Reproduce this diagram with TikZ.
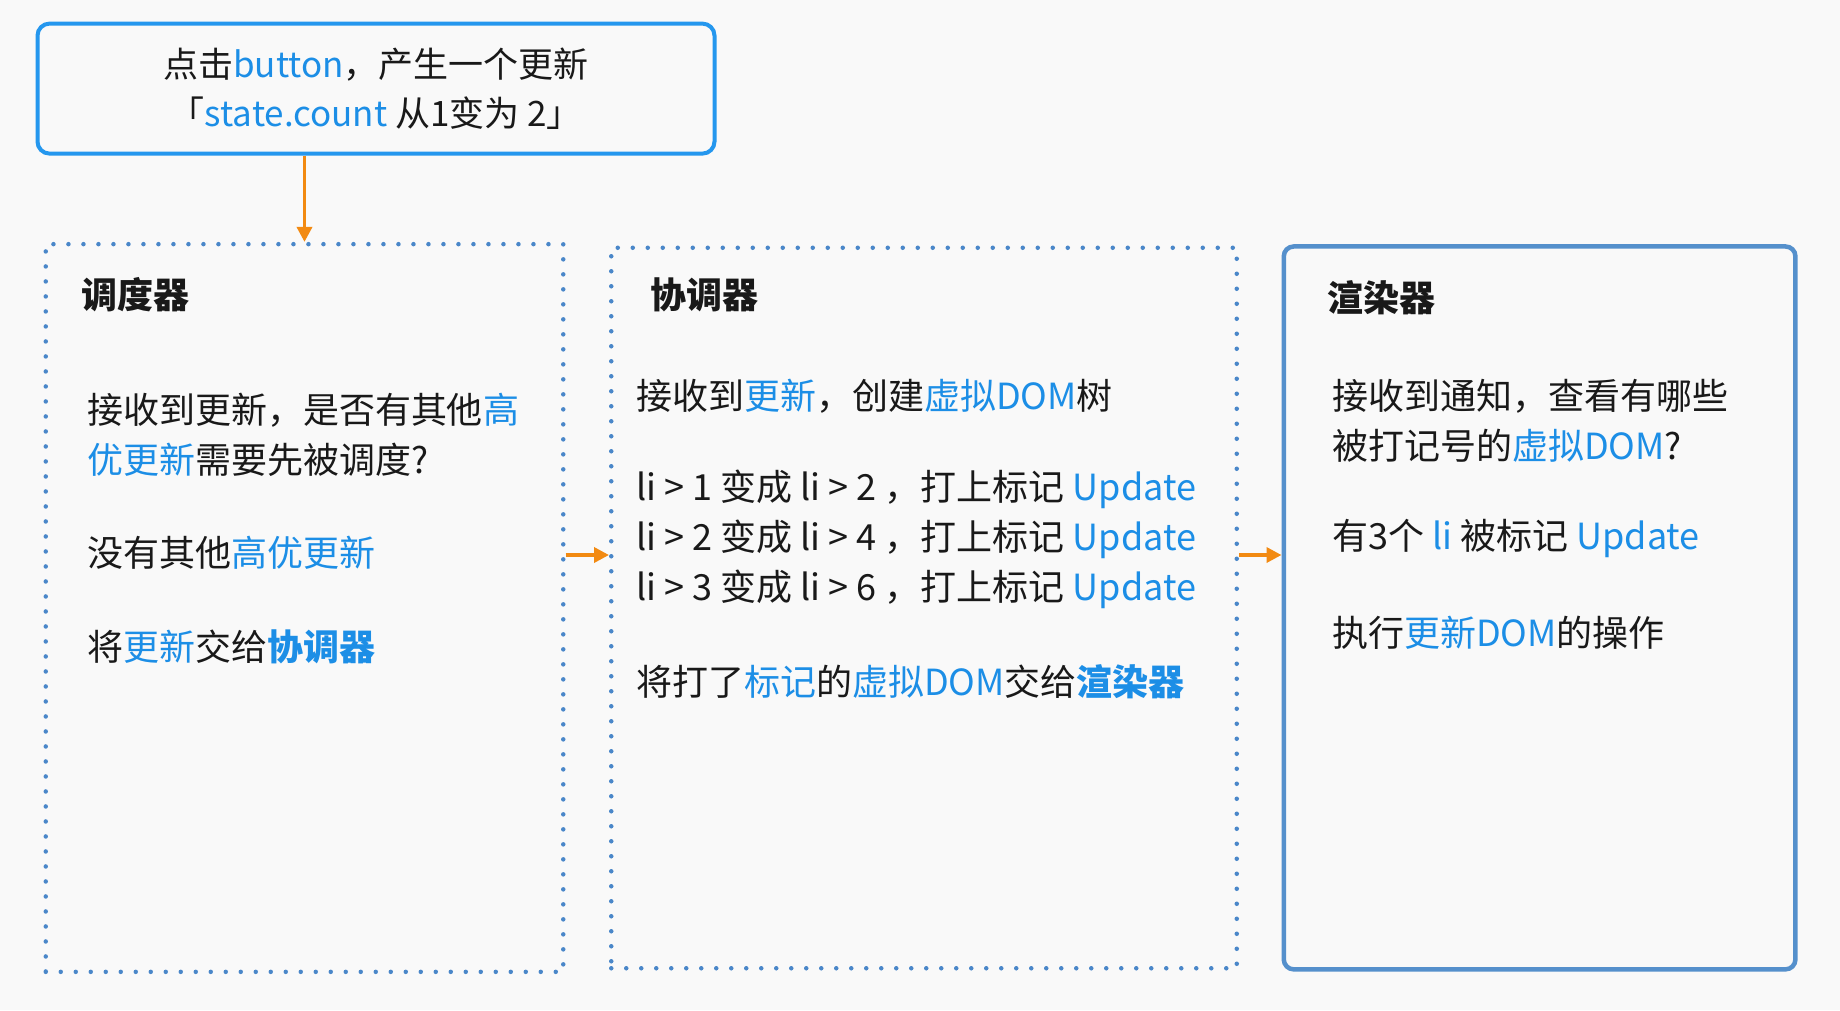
\documentclass[tikz,border=0pt]{standalone}
\usepackage{fontspec}
\setmainfont{Noto Sans CJK SC}
\usetikzlibrary{arrows.meta,calc}
\definecolor{bgc}{HTML}{F9F9F9}
\definecolor{hlblue}{HTML}{1C8EE6}
\definecolor{topblue}{HTML}{2597EE}
\definecolor{dotblue}{HTML}{4A87C9}
\definecolor{boxblue}{HTML}{5590CC}
\definecolor{arrorange}{HTML}{F28A12}
\newcommand\hb[1]{\textcolor{hlblue}{#1}}
\newcommand\hbb[1]{\textcolor{hlblue}{\bfseries #1}}
\newcommand\txtfont{\fontsize{36}{49}\selectfont}
\newcommand\topfont{\fontsize{35}{49}\selectfont}
\tikzset{
  txt/.style={anchor=west, inner sep=0pt, font=\txtfont, text=black!90},
  ttl/.style={anchor=west, inner sep=0pt, font=\txtfont\bfseries, text=black!90},
  topbox/.style={draw=topblue, line width=4pt, rounded corners=12pt, fill=bgc,
    align=center, font=\topfont, text=black!90},
  dotbox/.style={draw=dotblue, line width=4.5pt, line cap=round, dash pattern=on 0pt off 15pt},
  solidbox/.style={draw=boxblue, line width=4.5pt, rounded corners=10pt},
  arr/.style={draw=arrorange, line width=3.5pt, -{Triangle[length=15pt,width=15pt]}}
}
\begin{document}
\begin{tikzpicture}[x=1pt,y=-1pt]
\fill[bgc] (0,0) rectangle (1840,1010);
\useasboundingbox (0,0) rectangle (1840,1010);

\node[topbox, minimum width=677pt, minimum height=130pt] (top) at (376,88.6)
  {点击\hb{button}，产生一个更新\\「\hb{state.count} 从1变为 2」};

\node[dotbox, minimum width=517.5pt, minimum height=727.7pt] (sched) at (304.5,608) {};
\node[dotbox, minimum width=625.5pt, minimum height=720.5pt] (recon) at (924,608) {};
\node[solidbox, minimum width=511.7pt, minimum height=722.9pt] (rend) at (1539.6,607.9) {};

\coordinate (ay) at (0,555);
\draw[arr] (top.south -| sched.north) -- (sched.north);
\draw[arr] (sched.east |- ay) -- (recon.west |- ay);
\draw[arr] (recon.east |- ay) -- (rend.west |- ay);

% scheduler
\node[ttl] (t1) at (81,294.5) {调度器};
\node[txt] (s1) at (86.8,410.7) {接收到更新，是否有其他\hb{高}};
\node[txt] (s2) at (86.8,460) {\hb{优更新}需要先被调度?};
\node[txt] (s3) at (86.8,552.7) {没有其他\hb{高优更新}};
\node[txt] (s4) at (86.8,646.6) {将\hb{更新}交给\hbb{协调器}};

% reconciler
\node[ttl] (t2) at (650,294.5) {协调器};
\node[txt] (r1) at (636,396.6) {接收到\hb{更新}，创建\hb{虚拟DOM}树};
\node[txt] (r2) at (636,489.4) {li > 1 变成 li > 2 ，打上标记 \hb{Update}};
\node[txt] (r3) at (636,539.8) {li > 2 变成 li > 4 ，打上标记 \hb{Update}};
\node[txt] (r4) at (636,589) {li > 3 变成 li > 6 ，打上标记 \hb{Update}};
\node[txt] (r5) at (636,681.8) {将打了\hb{标记}的\hb{虚拟DOM}交给\hbb{渲染器}};

% renderer
\node[ttl] (t3) at (1327,298) {渲染器};
\node[txt] (d1) at (1332,396.6) {接收到通知，查看有哪些};
\node[txt] (d2) at (1332,446) {被打记号的\hb{虚拟DOM}?};
\node[txt] (d3) at (1332,538.6) {有3个 \hb{li} 被标记 \hb{Update}};
\node[txt] (d4) at (1332,632.5) {执行\hb{更新DOM}的操作};
\end{tikzpicture}
\end{document}
